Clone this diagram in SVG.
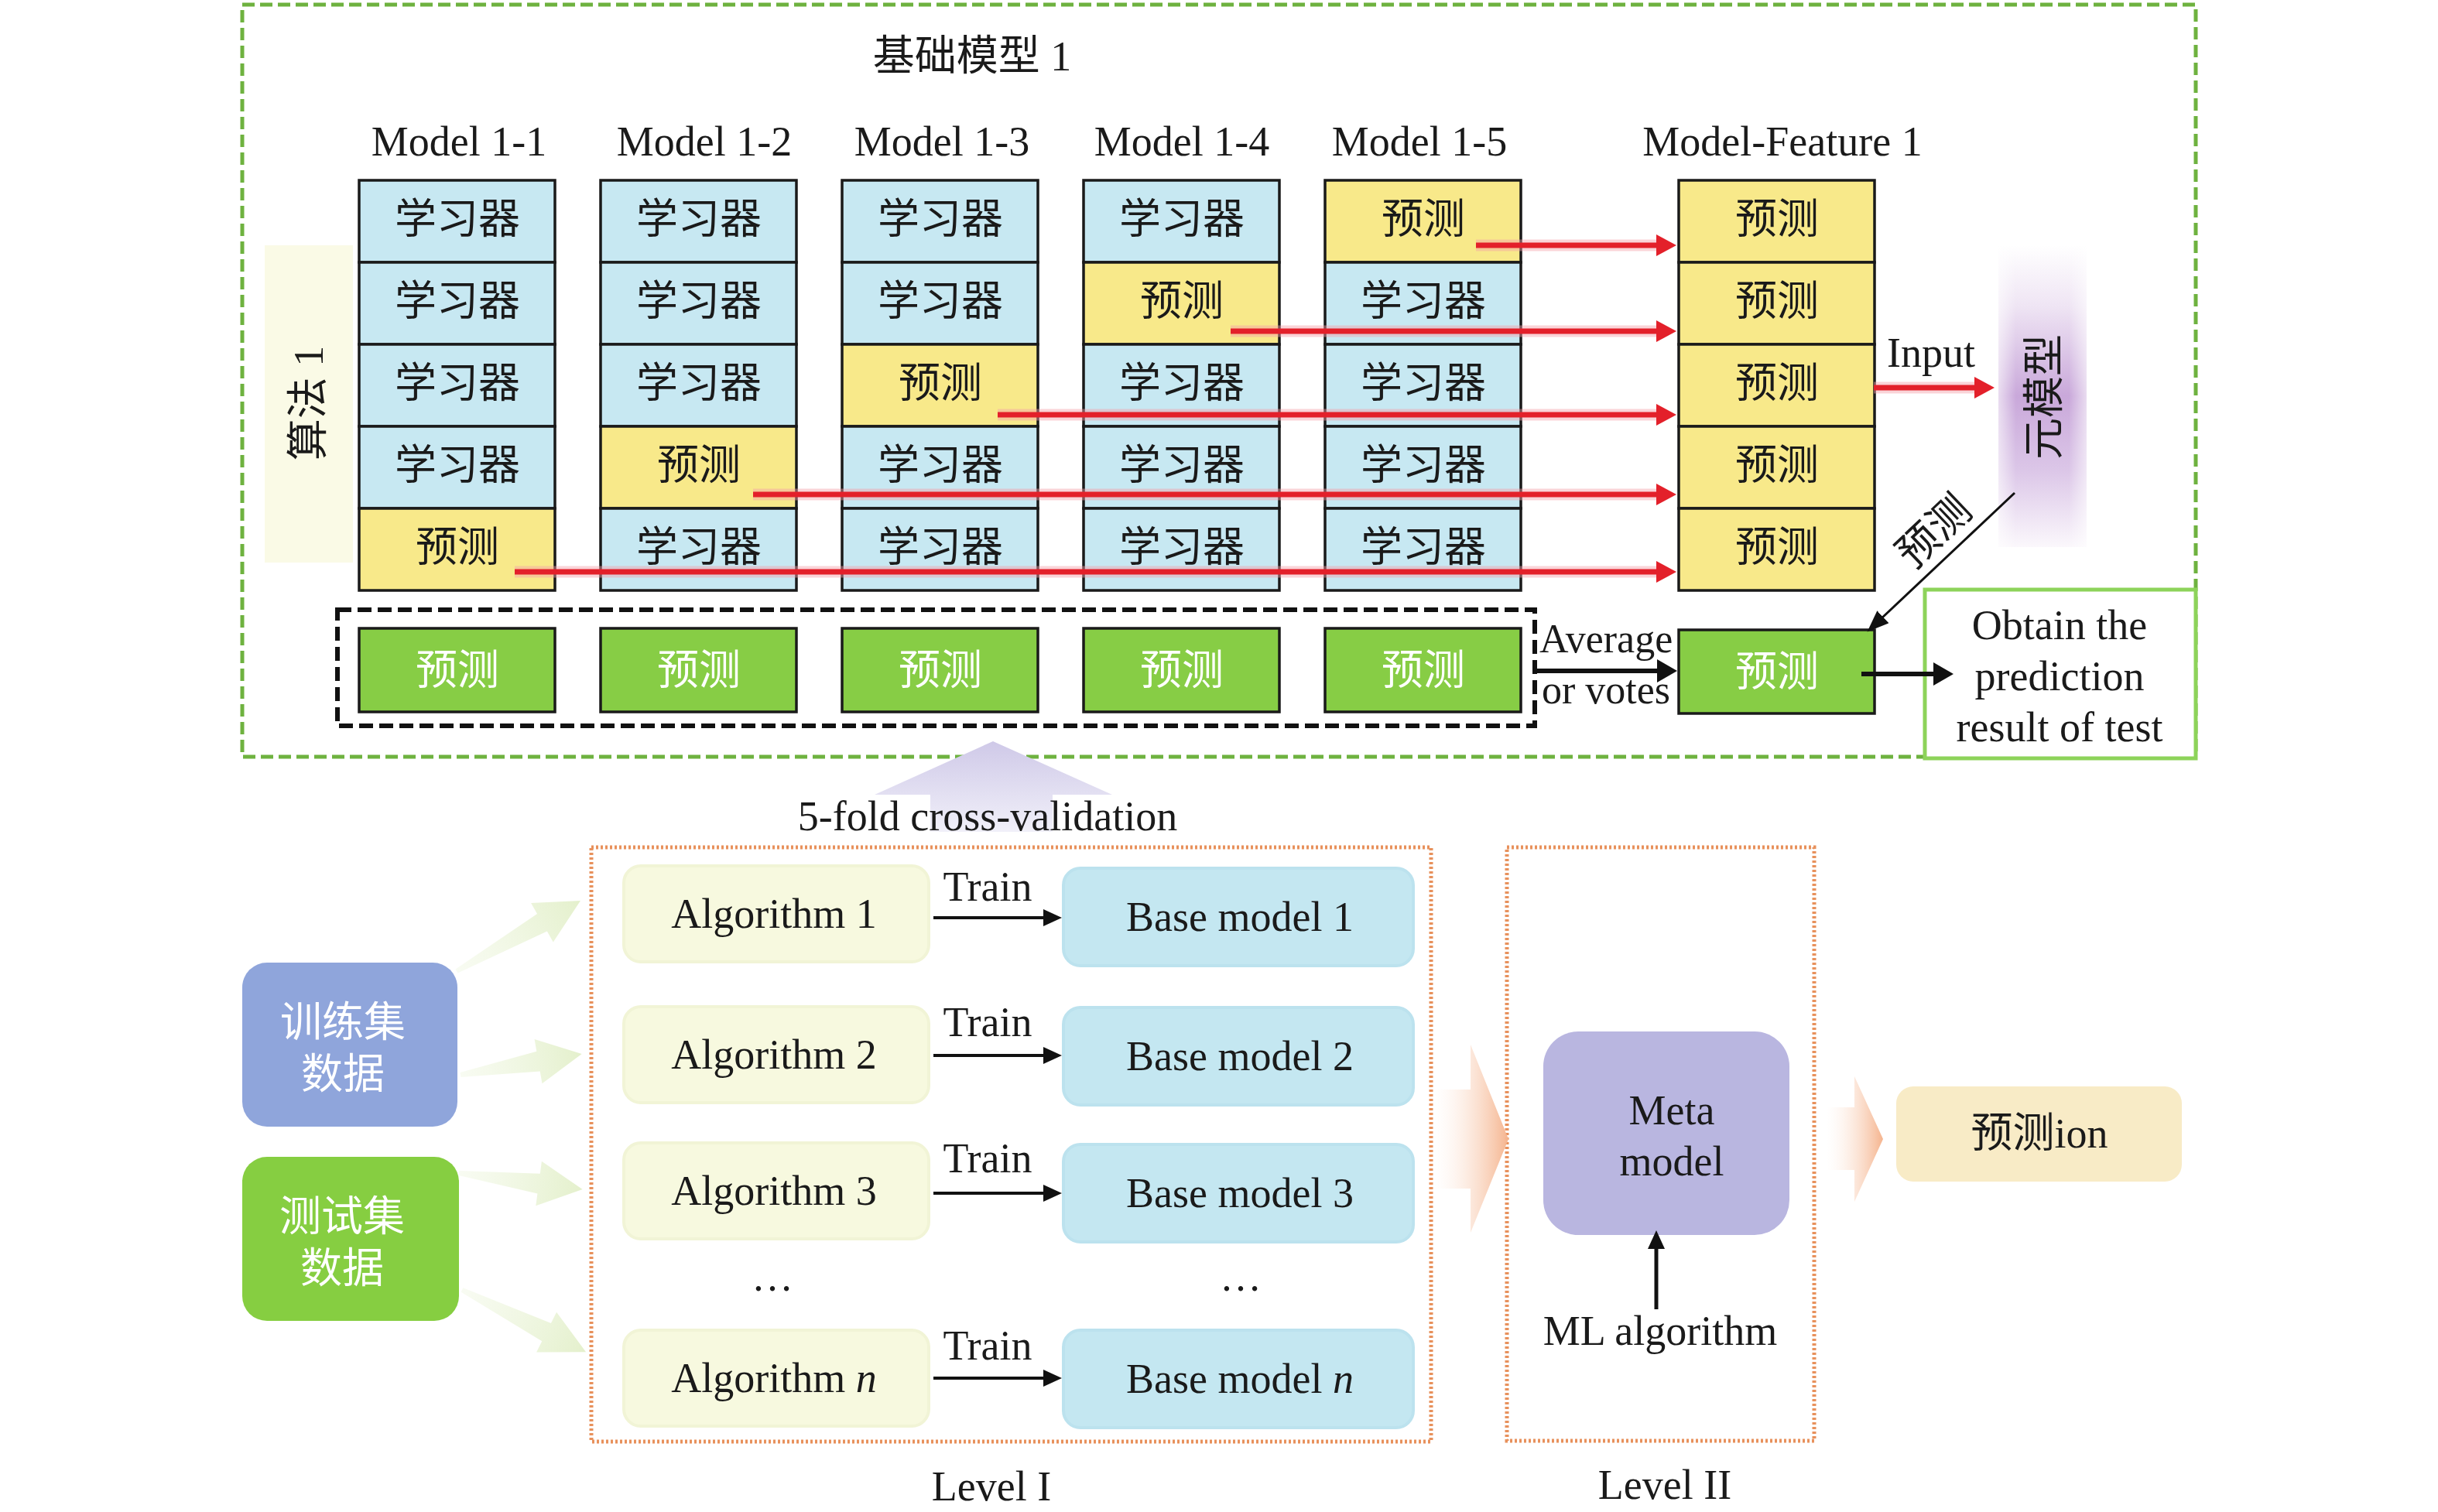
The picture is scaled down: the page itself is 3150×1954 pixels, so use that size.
<svg xmlns="http://www.w3.org/2000/svg" width="3150" height="1954" viewBox="0 0 3150 1954">
<defs>
<style>
text { font-family: "Liberation Serif", "Noto Sans CJK SC", serif; fill:#1a1a1a; }
.c { text-anchor:middle; font-size:54px; }
.cell { stroke:#1a1a1a; stroke-width:3.5; }
.blue { fill:#C7E8F2; }
.yel { fill:#F8E98A; }
.grn { fill:#87CD45; }
.wt { fill:#ffffff; }
.red { stroke:#E3202A; stroke-width:7; fill:none; }
.glow { stroke:#F4A0A8; stroke-width:15; opacity:.45; fill:none; }
.blk { stroke:#111; fill:none; }
.alg { fill:#F7F9DF; stroke:#F1F4D6; stroke-width:4; }
.base { fill:#C4E7F1; stroke:#BCE2EE; stroke-width:4; }
.parr { fill:url(#gArr); }
</style>
<marker id="mR" markerUnits="userSpaceOnUse" markerWidth="30" markerHeight="30" refX="6" refY="14" orient="auto">
<path d="M0,0 L26,14 L0,28 z" fill="#E3202A"/>
</marker>
<marker id="mK" markerUnits="userSpaceOnUse" markerWidth="30" markerHeight="32" refX="4" refY="15" orient="auto">
<path d="M0,0 L26,15 L0,30 z" fill="#111"/>
</marker>
<marker id="mKs" markerUnits="userSpaceOnUse" markerWidth="30" markerHeight="26" refX="2" refY="11" orient="auto">
<path d="M0,0 L24,11 L0,22 z" fill="#111"/>
</marker>
<marker id="mKd" markerUnits="userSpaceOnUse" markerWidth="30" markerHeight="26" refX="4" refY="11" orient="auto">
<path d="M0,0 L28,11 L0,22 z" fill="#111"/>
</marker>
<linearGradient id="gMeta" x1="0" y1="0" x2="0" y2="1">
<stop offset="0" stop-color="#ffffff"/>
<stop offset="0.2" stop-color="#EFE5F4"/>
<stop offset="0.5" stop-color="#C9A8DA"/>
<stop offset="0.75" stop-color="#DCC7E8"/>
<stop offset="1" stop-color="#FBF8FC"/>
</linearGradient>
<linearGradient id="gEdge" x1="0" y1="0" x2="1" y2="0">
<stop offset="0" stop-color="#fff" stop-opacity="0.6"/>
<stop offset="0.2" stop-color="#fff" stop-opacity="0"/>
<stop offset="0.8" stop-color="#fff" stop-opacity="0"/>
<stop offset="1" stop-color="#fff" stop-opacity="0.6"/>
</linearGradient>
<linearGradient id="gUp" x1="0" y1="0" x2="0" y2="1">
<stop offset="0" stop-color="#CFC9E8"/>
<stop offset="1" stop-color="#F1F0F9"/>
</linearGradient>
<linearGradient id="gArr" x1="0" y1="0" x2="1" y2="0">
<stop offset="0" stop-color="#EEF6DF" stop-opacity="0.4"/>
<stop offset="1" stop-color="#E4F0CC"/>
</linearGradient>
<linearGradient id="gOr" x1="0" y1="0" x2="1" y2="0">
<stop offset="0" stop-color="#FDEDE3" stop-opacity="0"/>
<stop offset="1" stop-color="#F5B48E"/>
</linearGradient>
</defs>
<rect width="3150" height="1954" fill="#ffffff"/>

<!-- outer green dashed frame -->
<g id="frame-base-model">
<rect x="313" y="6" width="2524" height="972" fill="none" stroke="#6EB23F" stroke-width="5" stroke-dasharray="16 7"/>
<text class="c" x="1256" y="91" font-size="52">基础模型 1</text>
</g>

<g id="algo-label">
<rect x="342" y="317" width="114" height="410" fill="#FAFAE6"/>
<text class="c" transform="translate(397,521) rotate(-90)" x="0" y="20" font-size="52">算法 1</text>
</g>

<g id="model-labels">
<text class="c" x="593" y="201">Model 1-1</text>
<text class="c" x="910" y="201">Model 1-2</text>
<text class="c" x="1217" y="201">Model 1-3</text>
<text class="c" x="1527" y="201">Model 1-4</text>
<text class="c" x="1834" y="201">Model 1-5</text>
<text class="c" x="2303" y="201">Model-Feature 1</text>
</g>

<g id="model-1-1">
<rect class="cell blue" x="464" y="233" width="253" height="106"/>
<rect class="cell blue" x="464" y="339" width="253" height="106"/>
<rect class="cell blue" x="464" y="445" width="253" height="106"/>
<rect class="cell blue" x="464" y="551" width="253" height="106"/>
<rect class="cell yel" x="464" y="657" width="253" height="106"/>
<text class="c" x="591" y="302">学习器</text>
<text class="c" x="591" y="408">学习器</text>
<text class="c" x="591" y="514">学习器</text>
<text class="c" x="591" y="620">学习器</text>
<text class="c" x="591" y="726">预测</text>
</g>
<g id="model-1-2">
<rect class="cell blue" x="776" y="233" width="253" height="106"/>
<rect class="cell blue" x="776" y="339" width="253" height="106"/>
<rect class="cell blue" x="776" y="445" width="253" height="106"/>
<rect class="cell yel" x="776" y="551" width="253" height="106"/>
<rect class="cell blue" x="776" y="657" width="253" height="106"/>
<text class="c" x="903" y="302">学习器</text>
<text class="c" x="903" y="408">学习器</text>
<text class="c" x="903" y="514">学习器</text>
<text class="c" x="903" y="620">预测</text>
<text class="c" x="903" y="726">学习器</text>
</g>
<g id="model-1-3">
<rect class="cell blue" x="1088" y="233" width="253" height="106"/>
<rect class="cell blue" x="1088" y="339" width="253" height="106"/>
<rect class="cell yel" x="1088" y="445" width="253" height="106"/>
<rect class="cell blue" x="1088" y="551" width="253" height="106"/>
<rect class="cell blue" x="1088" y="657" width="253" height="106"/>
<text class="c" x="1215" y="302">学习器</text>
<text class="c" x="1215" y="408">学习器</text>
<text class="c" x="1215" y="514">预测</text>
<text class="c" x="1215" y="620">学习器</text>
<text class="c" x="1215" y="726">学习器</text>
</g>
<g id="model-1-4">
<rect class="cell blue" x="1400" y="233" width="253" height="106"/>
<rect class="cell yel" x="1400" y="339" width="253" height="106"/>
<rect class="cell blue" x="1400" y="445" width="253" height="106"/>
<rect class="cell blue" x="1400" y="551" width="253" height="106"/>
<rect class="cell blue" x="1400" y="657" width="253" height="106"/>
<text class="c" x="1527" y="302">学习器</text>
<text class="c" x="1527" y="408">预测</text>
<text class="c" x="1527" y="514">学习器</text>
<text class="c" x="1527" y="620">学习器</text>
<text class="c" x="1527" y="726">学习器</text>
</g>
<g id="model-1-5">
<rect class="cell yel" x="1712" y="233" width="253" height="106"/>
<rect class="cell blue" x="1712" y="339" width="253" height="106"/>
<rect class="cell blue" x="1712" y="445" width="253" height="106"/>
<rect class="cell blue" x="1712" y="551" width="253" height="106"/>
<rect class="cell blue" x="1712" y="657" width="253" height="106"/>
<text class="c" x="1839" y="302">预测</text>
<text class="c" x="1839" y="408">学习器</text>
<text class="c" x="1839" y="514">学习器</text>
<text class="c" x="1839" y="620">学习器</text>
<text class="c" x="1839" y="726">学习器</text>
</g>
<g id="model-feature-1">
<rect class="cell yel" x="2169" y="233" width="253" height="106"/>
<rect class="cell yel" x="2169" y="339" width="253" height="106"/>
<rect class="cell yel" x="2169" y="445" width="253" height="106"/>
<rect class="cell yel" x="2169" y="551" width="253" height="106"/>
<rect class="cell yel" x="2169" y="657" width="253" height="106"/>
<text class="c" x="2296" y="302">预测</text>
<text class="c" x="2296" y="408">预测</text>
<text class="c" x="2296" y="514">预测</text>
<text class="c" x="2296" y="620">预测</text>
<text class="c" x="2296" y="726">预测</text>
</g>

<g id="meta-model-strip">
<rect x="2582" y="317" width="114" height="390" fill="url(#gMeta)"/>
<rect x="2582" y="317" width="114" height="390" fill="url(#gEdge)"/>
<text class="c" transform="translate(2640,513) rotate(-90)" x="0" y="20">元模型</text>
</g>

<g id="cv-predictions">
<rect x="436" y="788" width="1547" height="150" fill="none" stroke="#111" stroke-width="6" stroke-dasharray="18 8"/>
<rect class="cell grn" x="464" y="812" width="253" height="108"/>
<rect class="cell grn" x="776" y="812" width="253" height="108"/>
<rect class="cell grn" x="1088" y="812" width="253" height="108"/>
<rect class="cell grn" x="1400" y="812" width="253" height="108"/>
<rect class="cell grn" x="1712" y="812" width="253" height="108"/>
<text class="c wt" x="591" y="885">预测</text>
<text class="c wt" x="903" y="885">预测</text>
<text class="c wt" x="1215" y="885">预测</text>
<text class="c wt" x="1527" y="885">预测</text>
<text class="c wt" x="1839" y="885">预测</text>
</g>

<g id="final-prediction">
<rect class="cell grn" x="2169" y="814" width="253" height="108"/>
<text class="c wt" x="2296" y="887">预测</text>
</g>

<g id="obtain-result">
<rect x="2487" y="762" width="350" height="218" fill="#ffffff" stroke="#8DD35A" stroke-width="5"/>
<text class="c" x="2661" y="826" font-size="52">Obtain the</text>
<text class="c" x="2661" y="892" font-size="52">prediction</text>
<text class="c" x="2661" y="958" font-size="52">result of test</text>
</g>

<!-- lower section -->
<g id="cv-arrow">
<polygon points="1283,958 1437,1027 1360,1027 1360,1075 1202,1075 1202,1027 1130,1027" fill="url(#gUp)"/>
<text class="c" x="1276" y="1073" font-size="55">5-fold cross-validation</text>
</g>

<g id="train-data">
<rect x="313" y="1244" width="278" height="212" rx="32" fill="#8FA5DB"/>
<text class="c wt" x="443" y="1340" font-size="55">训练集</text>
<text class="c wt" x="443" y="1407" font-size="55">数据</text>
</g>
<g id="test-data">
<rect x="313" y="1495" width="280" height="212" rx="32" fill="#86CE41"/>
<text class="c wt" x="442" y="1591" font-size="55">测试集</text>
<text class="c wt" x="442" y="1658" font-size="55">数据</text>
</g>

<g id="level-1">
<rect x="764" y="1095" width="1085" height="768" fill="none" stroke="#E8915C" stroke-width="5" stroke-dasharray="3 3"/>
<text class="c" x="1281" y="1939">Level I</text>
</g>
<g id="algorithm-1"><rect class="alg" x="806" y="1119" width="394" height="124" rx="22"/><text class="c" x="1000" y="1199">Algorithm 1</text></g>
<g id="algorithm-2"><rect class="alg" x="806" y="1301" width="394" height="124" rx="22"/><text class="c" x="1000" y="1381">Algorithm 2</text></g>
<g id="algorithm-3"><rect class="alg" x="806" y="1477" width="394" height="124" rx="22"/><text class="c" x="1000" y="1557">Algorithm 3</text></g>
<g id="algorithm-n"><rect class="alg" x="806" y="1719" width="394" height="124" rx="22"/><text class="c" x="1000" y="1799">Algorithm <tspan font-style="italic">n</tspan></text></g>
<g id="base-model-1"><rect class="base" x="1374" y="1122" width="452" height="126" rx="22"/><text class="c" x="1602" y="1203">Base model 1</text></g>
<g id="base-model-2"><rect class="base" x="1374" y="1302" width="452" height="126" rx="22"/><text class="c" x="1602" y="1383">Base model 2</text></g>
<g id="base-model-3"><rect class="base" x="1374" y="1479" width="452" height="126" rx="22"/><text class="c" x="1602" y="1560">Base model 3</text></g>
<g id="base-model-n"><rect class="base" x="1374" y="1719" width="452" height="126" rx="22"/><text class="c" x="1602" y="1800">Base model <tspan font-style="italic">n</tspan></text></g>
<g id="ellipses">
<text class="c" x="998" y="1668">…</text>
<text class="c" x="1603" y="1668">…</text>
</g>

<g id="level-2">
<rect x="1947" y="1095" width="397" height="767" fill="none" stroke="#E8915C" stroke-width="5" stroke-dasharray="3 3"/>
<text class="c" x="2151" y="1937">Level II</text>
</g>
<g id="meta-model">
<rect x="1994" y="1333" width="318" height="263" rx="45" fill="#B9B6E0"/>
<text class="c" x="2160" y="1453">Meta</text>
<text class="c" x="2160" y="1519">model</text>
</g>
<g id="ml-algorithm">
<text class="c" x="2145" y="1738">ML algorithm</text>
</g>
<g id="prediction-out">
<rect x="2450" y="1404" width="369" height="123" rx="22" fill="#F8EBC6"/>
<text class="c" x="2635" y="1483">预测ion</text>
</g>

<!-- connectors -->
<g id="connectors">
<g class="red-arrows">
<line class="glow" x1="1907" y1="317" x2="2150" y2="317"/>
<line class="glow" x1="1590" y1="428" x2="2150" y2="428"/>
<line class="glow" x1="1289" y1="536" x2="2150" y2="536"/>
<line class="glow" x1="973" y1="639" x2="2150" y2="639"/>
<line class="glow" x1="665" y1="739" x2="2150" y2="739"/>
<line class="red" x1="1907" y1="317" x2="2146" y2="317" marker-end="url(#mR)"/>
<line class="red" x1="1590" y1="428" x2="2146" y2="428" marker-end="url(#mR)"/>
<line class="red" x1="1289" y1="536" x2="2146" y2="536" marker-end="url(#mR)"/>
<line class="red" x1="973" y1="639" x2="2146" y2="639" marker-end="url(#mR)"/>
<line class="red" x1="665" y1="739" x2="2146" y2="739" marker-end="url(#mR)"/>
<line class="glow" x1="2421" y1="501" x2="2560" y2="501"/>
<line class="red" x1="2421" y1="501" x2="2557" y2="501" marker-end="url(#mR)"/>
<text class="c" x="2495" y="474" font-size="52">Input</text>
</g>
<line class="blk" x1="1984" y1="867" x2="2145" y2="867" stroke-width="6" marker-end="url(#mK)"/>
<text x="1989" y="843" font-size="52">Average</text>
<text x="1992" y="909" font-size="52">or votes</text>
<line class="blk" x1="2405" y1="871" x2="2502" y2="871" stroke-width="6" marker-end="url(#mK)"/>
<line class="blk" x1="2603" y1="637" x2="2430" y2="800" stroke-width="3" marker-end="url(#mKd)"/>
<text class="c" transform="translate(2499,687) rotate(-43.6)" x="0" y="18" font-size="50">预测</text>

<line class="blk" x1="1206" y1="1186" x2="1350" y2="1186" stroke-width="4" marker-end="url(#mKs)"/>
<line class="blk" x1="1206" y1="1364" x2="1350" y2="1364" stroke-width="4" marker-end="url(#mKs)"/>
<line class="blk" x1="1206" y1="1542" x2="1350" y2="1542" stroke-width="4" marker-end="url(#mKs)"/>
<line class="blk" x1="1206" y1="1781" x2="1350" y2="1781" stroke-width="4" marker-end="url(#mKs)"/>
<text class="c" x="1276" y="1164" font-size="52">Train</text>
<text class="c" x="1276" y="1339" font-size="52">Train</text>
<text class="c" x="1276" y="1515" font-size="52">Train</text>
<text class="c" x="1276" y="1757" font-size="52">Train</text>

<line class="blk" x1="2140" y1="1692" x2="2140" y2="1612" stroke-width="5" marker-end="url(#mKs)"/>

<polygon class="parr" transform="translate(590,1255) rotate(-29.6)" points="0,-3 127,-13 127,-29 184,0 127,29 127,13 0,3"/>
<polygon class="parr" transform="translate(595,1389) rotate(-9.8)" points="0,-3 102,-13 102,-29 159,0 102,29 102,13 0,3"/>
<polygon class="parr" transform="translate(593,1516) rotate(7.5)" points="0,-3 104,-13 104,-29 161,0 104,29 104,13 0,3"/>
<polygon class="parr" transform="translate(597,1667) rotate(26.6)" points="0,-3 122,-13 122,-29 179,0 122,29 122,13 0,3"/>

<polygon fill="url(#gOr)" points="1852,1408 1900,1408 1900,1350 1949,1472 1900,1593 1900,1536 1852,1536"/>
<polygon fill="url(#gOr)" points="2360,1431 2396,1431 2396,1391 2433,1472 2396,1553 2396,1512 2360,1512"/>
</g>
</svg>
